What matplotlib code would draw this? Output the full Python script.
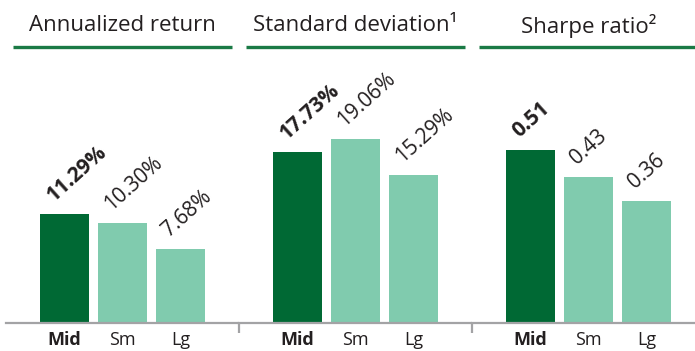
import numpy as np
import matplotlib.pyplot as plt

# data
titles = ["Annualized return", "Standard deviation\u00b9", "Sharpe ratio\u00b2"]
groups = ["Mid", "Sm", "Lg"]
annual_return = [11.29, 10.30, 7.68]
std_dev = [17.73, 19.06, 15.29]
sharpe = [0.51, 0.43, 0.36]
value_labels = [["11.29%", "10.30%", "7.68%"],
                 ["17.73%", "19.06%", "15.29%"],
                 ["0.51", "0.43", "0.36"]]
panels = [annual_return, std_dev, sharpe]
ymax = [27.2, 27.2, 0.776]

dark = "#006934"
light = "#80cbae"
ink = "#231f20"
grey = "#a3a3a5"

plt.rcParams['font.family'] = ['Open Sans', 'DejaVu Sans']

W, H = 695, 351
fig = plt.figure(figsize=(W / 100, H / 100), dpi=100)

panel_w = 233
left0 = 6
bottom = 28
height = 263

x = np.arange(3)
half = panel_w / 2 / 58
for i, vals in enumerate(panels):
    ax = fig.add_axes([(left0 + i * panel_w) / W, bottom / H, panel_w / W, height / H])
    ax.bar(x, vals, width=0.845, color=[dark, light, light])
    ax.set_xlim(1 - half, 1 + half)
    ax.set_ylim(0, ymax[i])

    for sp in ["top", "left", "right"]:
        ax.spines[sp].set_visible(False)
    ax.spines["bottom"].set_color(grey)
    ax.spines["bottom"].set_linewidth(1.6)
    ax.set_yticks([])

    ax.set_xticks(x)
    ax.set_xticklabels(groups, fontsize=13, color=ink)
    ax.get_xticklabels()[0].set_fontweight("bold")
    ax.tick_params(axis="x", length=0, pad=5.5)
    if i < 2:
        ax.set_xticks([1 + half], minor=True)
        ax.tick_params(axis="x", which="minor", length=7, width=1.6, color=grey)

    # rotated value labels
    for j, v in enumerate(vals):
        ax.annotate(value_labels[i][j], (x[j], v), xytext=(-8, 8.6),
                    textcoords="offset points", rotation=42,
                    rotation_mode="anchor", ha="left", va="baseline",
                    fontsize=15, color=ink,
                    fontweight="bold" if j == 0 else "normal")

    # header text and underline
    ax.text(0.5, 1.13, titles[i], transform=ax.transAxes, ha="center",
            va="center", fontsize=16, color=ink, fontweight="medium")
    ax.plot([0.03, 0.97], [1.049, 1.049], transform=ax.transAxes,
            color="#1a7a45", lw=2.4, clip_on=False, solid_capstyle="butt")

fig.savefig("out.png", dpi=100)
